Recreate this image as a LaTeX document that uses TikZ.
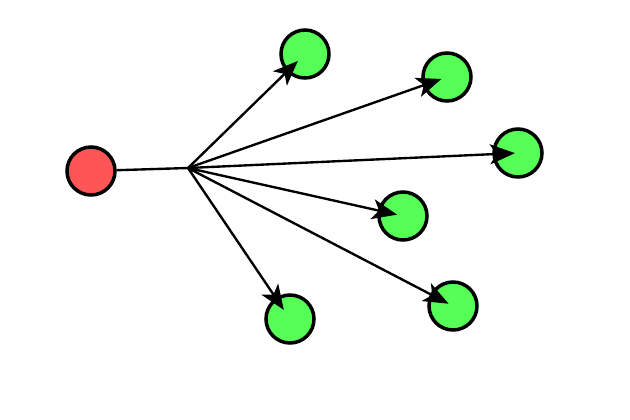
\documentclass[tikz,border=0pt]{standalone}
\usepackage{tikz}
\usetikzlibrary{arrows.meta,positioning}
\tikzstyle{root}=[circle, draw=black, fill=mred, minimum size=0.96cm, line width=2pt, inner sep=0pt]
\tikzstyle{leaf}=[circle, draw=black, fill=mgreen, minimum size=0.96cm, line width=2pt, inner sep=0pt]
\tikzstyle{l1}=[line width=1.35pt]
\tikzstyle{arr}=[l1, -{Stealth[length=0.5cm, width=0.4cm, inset=0.13cm]}]
\usepackage{xcolor}
\definecolor{mgreen}{HTML}{55FF55}
\definecolor{mred}{HTML}{FF5555}

\begin{document}
\begin{tikzpicture}[x=0.02cm, y=-0.02cm]
    \useasboundingbox (0,0) rectangle (630,420);
    \node[root] at (91,171) (src) {};
    \coordinate (hub) at (188,168);
    \node[leaf] at (305,54) (t1) {};
    \node[leaf] at (447,77) (t2) {};
    \node[leaf] at (518,153) (t3) {};
    \node[leaf] at (403,216) (t4) {};
    \node[leaf] at (453,306) (t5) {};
    \node[leaf] at (290,319) (t6) {};

    \draw[l1] (src) -- (hub);
    \draw[arr, shorten >=0.2cm] (hub) -- (t1.center);
    \draw[arr, shorten >=0.12cm] (hub) -- (t2.center);
    \draw[arr, shorten >=0.06cm] (hub) -- (t3.center);
    \draw[arr, shorten >=0.12cm] (hub) -- (t4.center);
    \draw[arr, shorten >=0.1cm] (hub) -- (t5.center);
    \draw[arr, shorten >=0.22cm] (hub) -- (t6.center);
\end{tikzpicture}
\end{document}
